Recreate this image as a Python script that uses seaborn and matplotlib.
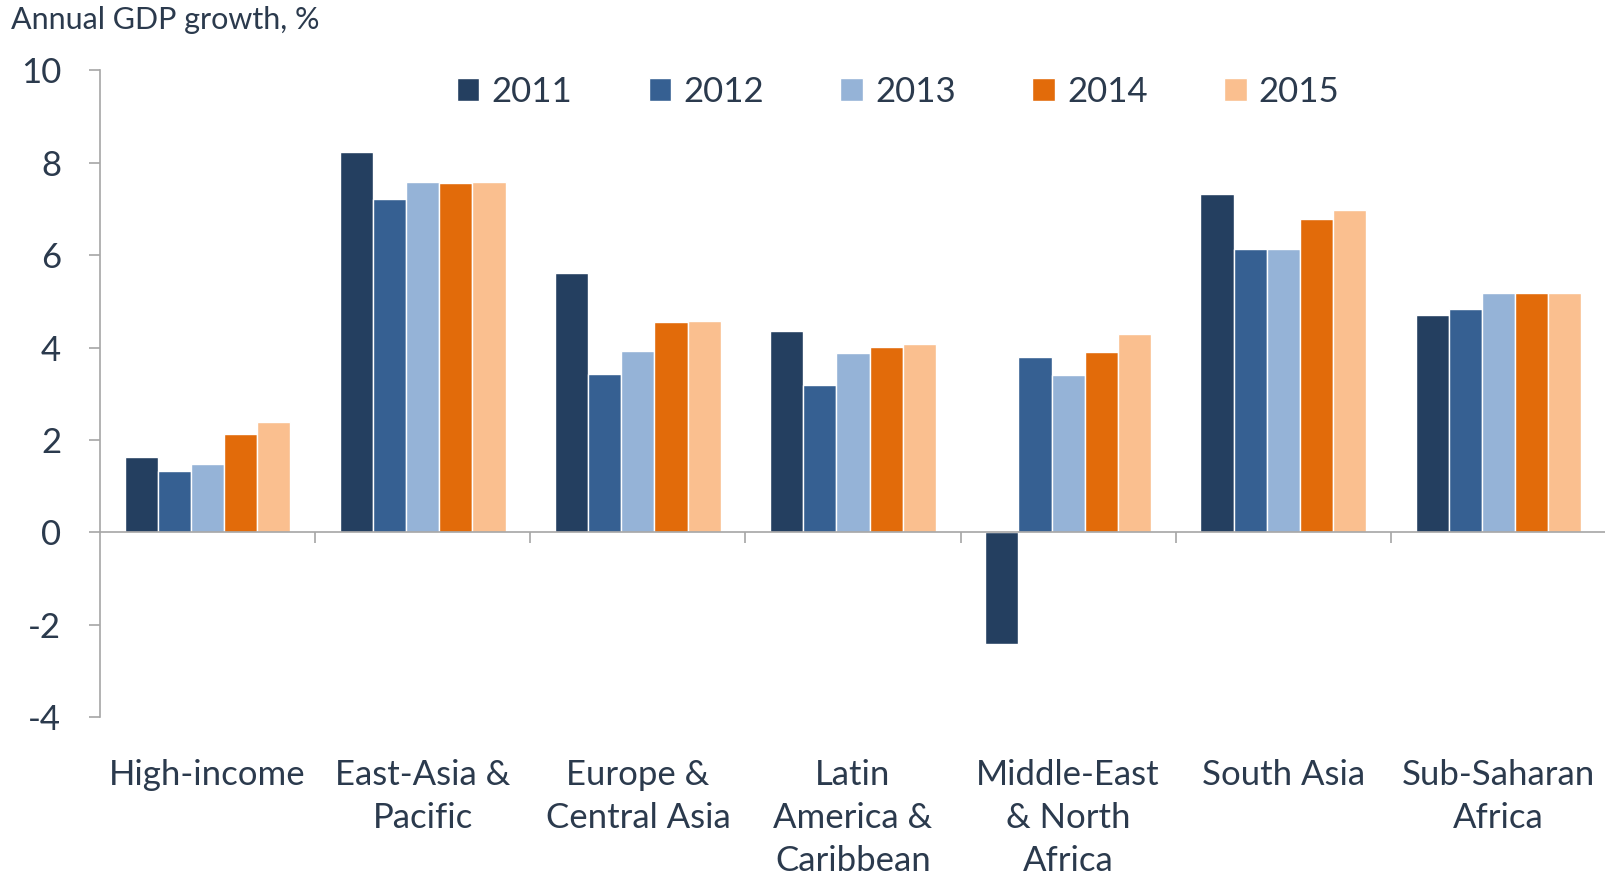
import pandas as pd
import numpy as np
import matplotlib.pyplot as plt
import seaborn as sns

# -----------------------------
# DATA
# -----------------------------
regions = ['High-income', 'East-Asia &\nPacific', 'Europe &\nCentral Asia',
           'Latin\nAmerica &\nCaribbean', 'Middle-East\n& North\nAfrica',
           'South Asia', 'Sub-Saharan\nAfrica']
years = ['2011', '2012', '2013', '2014', '2015']

g2011 = [1.63, 8.23, 5.61, 4.35, -2.41, 7.33, 4.70]
g2012 = [1.32, 7.22, 3.42, 3.18, 3.80, 6.14, 4.83]
g2013 = [1.48, 7.59, 3.93, 3.89, 3.40, 6.14, 5.17]
g2014 = [2.14, 7.55, 4.55, 4.02, 3.91, 6.78, 5.17]
g2015 = [2.38, 7.57, 4.57, 4.08, 4.30, 6.98, 5.19]

colors = ['#243f60', '#366092', '#95b3d7', '#e26b0a', '#fabf8f']

df = pd.DataFrame({'region': regions, '2011': g2011, '2012': g2012,
                   '2013': g2013, '2014': g2014, '2015': g2015})
long = df.melt(id_vars='region', var_name='year', value_name='growth')

# -----------------------------
# PLOT
# -----------------------------
sns.set_style('white')
plt.rcParams['font.family'] = ['Lato', 'DejaVu Sans']
txt = '#2b3a4d'
grey = '#a6a6a6'

fig = plt.figure(figsize=(16.06, 8.77), dpi=100)
ax = fig.add_axes([0.0623, 0.182, 0.9377, 0.738])

sns.barplot(data=long, x='region', y='growth', hue='year', hue_order=years,
            palette=colors, width=0.77, saturation=1, ax=ax, errorbar=None)

ax.set_xlim(-0.5, 6.5)
ax.set_ylim(-4, 10)
ax.set_yticks(np.arange(-4, 11, 2))
ax.set_yticklabels([str(v) for v in range(-4, 11, 2)])
ax.tick_params(axis='y', labelsize=25, colors=grey, labelcolor=txt,
               length=8, width=1.2, direction='out', left=True, pad=20)

for s in ['top', 'right']:
    ax.spines[s].set_visible(False)
ax.spines['left'].set_color(grey)
ax.spines['left'].set_linewidth(1.2)
ax.spines['bottom'].set_position(('data', 0))
ax.spines['bottom'].set_color(grey)
ax.spines['bottom'].set_linewidth(1.2)

# boundary ticks on the zero line
ax.set_xticks(np.arange(0.5, 7, 1))
ax.set_xticklabels([])
ax.tick_params(axis='x', colors=grey, length=8, width=1.2, direction='out',
               bottom=True)
ax.set_xlabel('')
ax.set_ylabel('')

# category labels below the plot area
sec = ax.secondary_xaxis(-0.0)
sec.set_xticks(range(len(regions)))
sec.set_xticklabels(regions, fontsize=25, color=txt, linespacing=1.42,
                    va='top')
sec.tick_params(length=0, pad=30)
sec.spines['bottom'].set_visible(False)

leg = ax.legend(loc='upper center', bbox_to_anchor=(0.53, 1.04), ncol=5,
                frameon=False, fontsize=25, handlelength=0.65, handleheight=0.65,
                handletextpad=0.35, columnspacing=2.2)
for t in leg.get_texts():
    t.set_color(txt)

fig.text(0.007, 0.977, 'Annual GDP growth, %', fontsize=22, color=txt,
         ha='left', va='center')

plt.savefig('out.png', dpi=100)
plt.close()
